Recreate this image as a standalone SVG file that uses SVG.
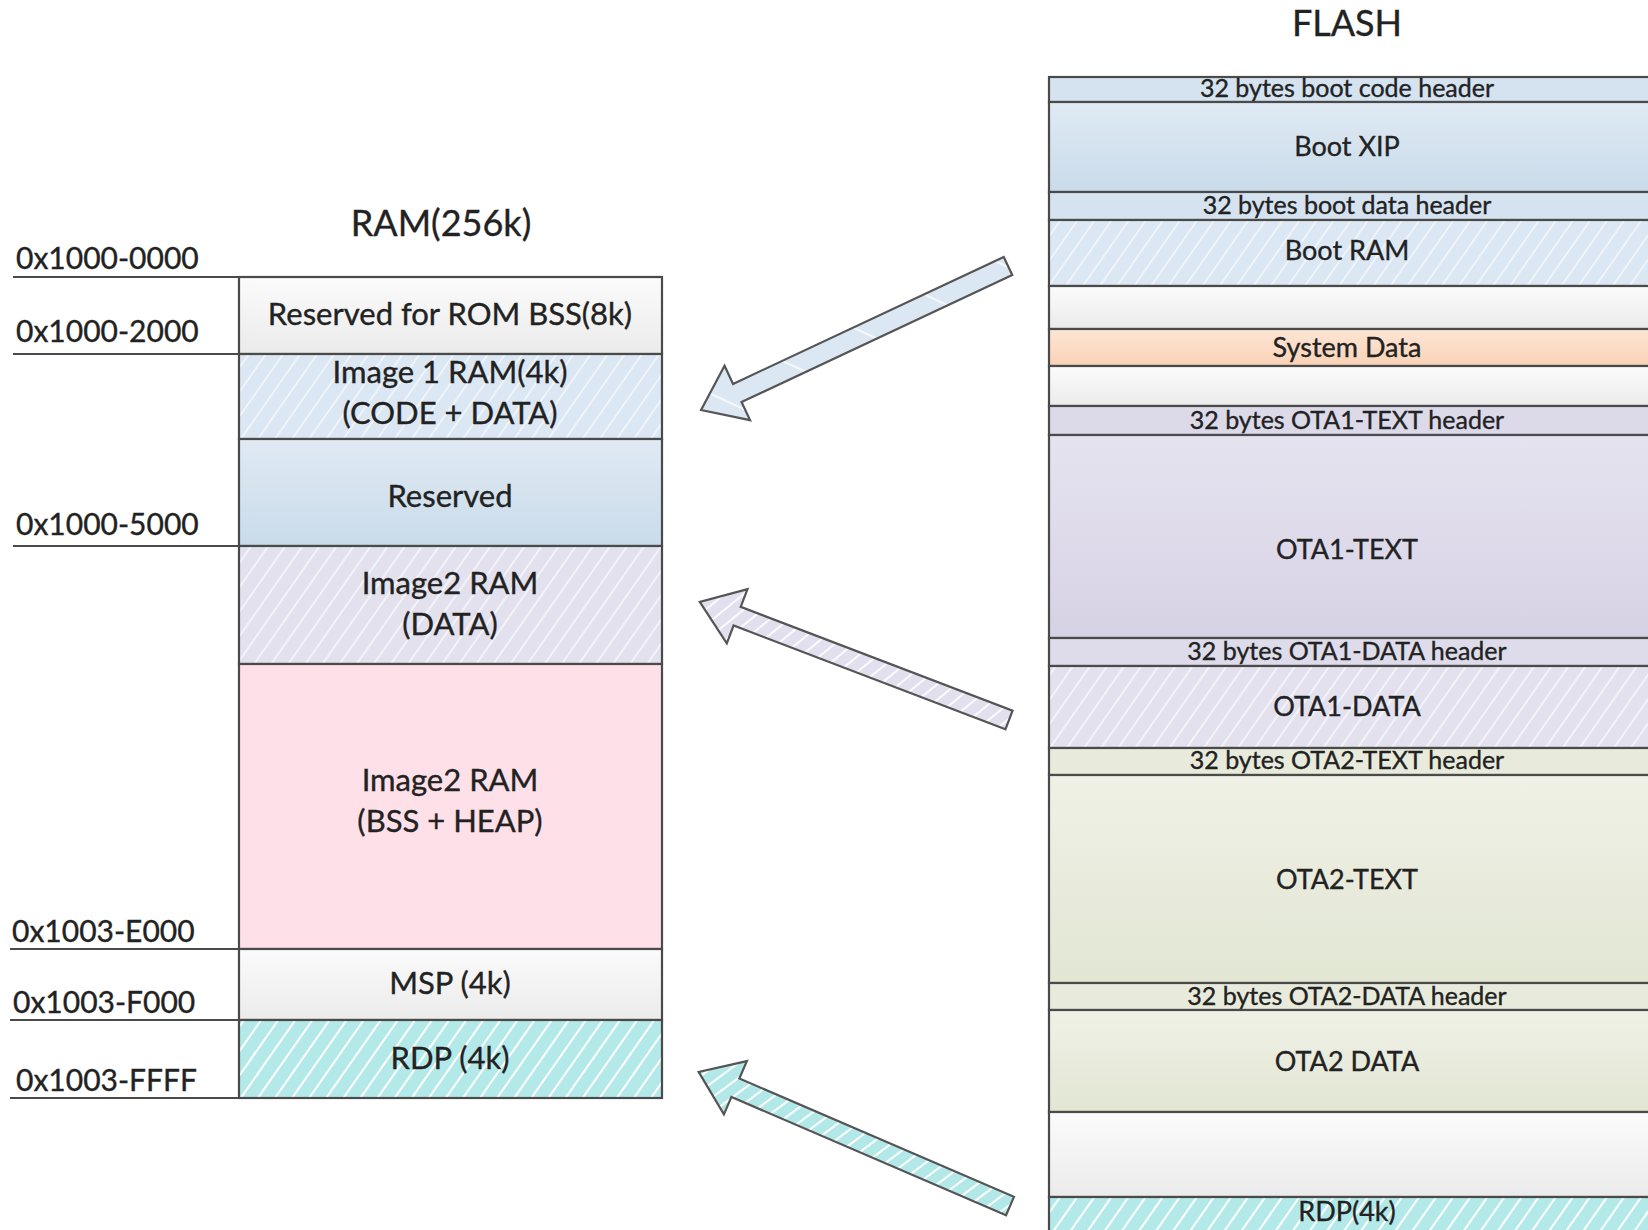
<svg xmlns="http://www.w3.org/2000/svg" width="1648" height="1230" viewBox="0 0 1648 1230">
<style>
.t{font-family:Lato,"Open Sans","Liberation Sans",sans-serif;fill:#222;stroke:#222;stroke-width:0.35;text-anchor:middle}
.addr{font-family:Lato,"Open Sans","Liberation Sans",sans-serif;fill:#222;stroke:#222;stroke-width:0.35;font-size:30px}
.lbl{font-size:31px}
.hdr{font-size:25px}
.fl{font-size:27px}
.ttl{font-size:36px}
.box{stroke:#4a4a4a;stroke-width:2.2}
.aline{stroke:#4a4a4a;stroke-width:2.2;fill:none}
.arrow{stroke:#555;stroke-width:2.2;stroke-linejoin:miter}
</style>
<defs>
<linearGradient id="gGray" x1="0" y1="0" x2="0" y2="1"><stop offset="0" stop-color="#fbfbfb"/><stop offset="1" stop-color="#ebebeb"/></linearGradient>
<linearGradient id="gBlue" x1="0" y1="0" x2="0" y2="1"><stop offset="0" stop-color="#e0eaf4"/><stop offset="1" stop-color="#c9dbea"/></linearGradient>
<linearGradient id="gPurple" x1="0" y1="0" x2="0" y2="1"><stop offset="0" stop-color="#e6e3f0"/><stop offset="1" stop-color="#d6d2e5"/></linearGradient>
<linearGradient id="gGreen" x1="0" y1="0" x2="0" y2="1"><stop offset="0" stop-color="#eff1e6"/><stop offset="1" stop-color="#e2e6d3"/></linearGradient>
<linearGradient id="gOrange" x1="0" y1="0" x2="0" y2="1"><stop offset="0" stop-color="#fde6d6"/><stop offset="1" stop-color="#f9d2b6"/></linearGradient>
<pattern id="hBlue" width="14" height="14" patternUnits="userSpaceOnUse" patternTransform="rotate(35)"><rect width="14" height="14" fill="#dbe7f2"/><line x1="1" y1="0" x2="1" y2="14" stroke="#f4f8fc" stroke-width="1.6"/></pattern>
<pattern id="hPurple" width="14" height="14" patternUnits="userSpaceOnUse" patternTransform="rotate(35)"><rect width="14" height="14" fill="#e3e1ee"/><line x1="1" y1="0" x2="1" y2="14" stroke="#f8f7fc" stroke-width="1.6"/></pattern>
<pattern id="hCyan" width="14" height="14" patternUnits="userSpaceOnUse" patternTransform="rotate(35)"><rect width="14" height="14" fill="#b3e9e9"/><line x1="1" y1="0" x2="1" y2="14" stroke="#ffffff" stroke-width="2"/></pattern>
<pattern id="aBlue" width="60" height="60" patternUnits="userSpaceOnUse" patternTransform="rotate(-40)"><rect width="60" height="60" fill="#dbe7f2"/><line x1="1" y1="0" x2="1" y2="60" stroke="#f6f9fc" stroke-width="2"/></pattern>
<pattern id="aPurple" width="12" height="12" patternUnits="userSpaceOnUse" patternTransform="rotate(30)"><rect width="12" height="12" fill="#e2e0ee"/><line x1="1" y1="0" x2="1" y2="12" stroke="#fbfaff" stroke-width="2"/></pattern>
<pattern id="aCyan" width="12" height="12" patternUnits="userSpaceOnUse" patternTransform="rotate(30)"><rect width="12" height="12" fill="#b2e8e8"/><line x1="1" y1="0" x2="1" y2="12" stroke="#ffffff" stroke-width="2"/></pattern>
</defs>
<rect width="1648" height="1230" fill="#ffffff"/>

<text class="t ttl" x="441" y="236">RAM(256k)</text>
<text class="t ttl" x="1347" y="36">FLASH</text>

<g id="addresses">
<text class="addr" x="16" y="269">0x1000-0000</text>
<text class="addr" x="16" y="342">0x1000-2000</text>
<text class="addr" x="16" y="535">0x1000-5000</text>
<text class="addr" x="12" y="942">0x1003-E000</text>
<text class="addr" x="13" y="1013">0x1003-F000</text>
<text class="addr" x="16" y="1091">0x1003-FFFF</text>
<path class="aline" d="M13 277H239M13 354H239M13 546H239M10 949H239M10 1020H239M10 1098H239"/>
</g>

<g id="ram-rom-bss"><rect class="box" x="239" y="277" width="423" height="77" fill="url(#gGray)"/><text class="t lbl" x="450" y="325">Reserved for ROM BSS(8k)</text></g>
<g id="ram-image1"><rect class="box" x="239" y="354" width="423" height="85" fill="url(#hBlue)"/><text class="t lbl" x="450" y="383">Image 1 RAM(4k)</text><text class="t lbl" x="450" y="424">(CODE + DATA)</text></g>
<g id="ram-reserved"><rect class="box" x="239" y="439" width="423" height="107" fill="url(#gBlue)"/><text class="t lbl" x="450" y="507">Reserved</text></g>
<g id="ram-image2-data"><rect class="box" x="239" y="546" width="423" height="118" fill="url(#hPurple)"/><text class="t lbl" x="450" y="594">Image2 RAM</text><text class="t lbl" x="450" y="635">(DATA)</text></g>
<g id="ram-image2-bss"><rect class="box" x="239" y="664" width="423" height="285" fill="#fde0e8"/><text class="t lbl" x="450" y="791">Image2 RAM</text><text class="t lbl" x="450" y="832">(BSS + HEAP)</text></g>
<g id="ram-msp"><rect class="box" x="239" y="949" width="423" height="71" fill="url(#gGray)"/><text class="t lbl" x="450" y="994">MSP (4k)</text></g>
<g id="ram-rdp"><rect class="box" x="239" y="1020" width="423" height="78" fill="url(#hCyan)"/><text class="t lbl" x="450" y="1069">RDP (4k)</text></g>

<g id="flash-boot-code-header"><rect class="box" x="1049" y="77" width="602" height="25" fill="#d5e3f0"/><text class="t hdr" x="1347" y="97">32 bytes boot code header</text></g>
<g id="flash-boot-xip"><rect class="box" x="1049" y="102" width="602" height="90" fill="url(#gBlue)"/><text class="t fl" x="1347" y="156">Boot XIP</text></g>
<g id="flash-boot-data-header"><rect class="box" x="1049" y="192" width="602" height="28" fill="#d5e3f0"/><text class="t hdr" x="1347" y="214">32 bytes boot data header</text></g>
<g id="flash-boot-ram"><rect class="box" x="1049" y="220" width="602" height="66" fill="url(#hBlue)"/><text class="t fl" x="1347" y="260">Boot RAM</text></g>
<g id="flash-empty-1"><rect class="box" x="1049" y="286" width="602" height="43" fill="url(#gGray)"/></g>
<g id="flash-system-data"><rect class="box" x="1049" y="329" width="602" height="37" fill="url(#gOrange)"/><text class="t fl" x="1347" y="357">System Data</text></g>
<g id="flash-empty-2"><rect class="box" x="1049" y="366" width="602" height="40" fill="url(#gGray)"/></g>
<g id="flash-ota1-text-header"><rect class="box" x="1049" y="406" width="602" height="29" fill="#dcd9e9"/><text class="t hdr" x="1347" y="429">32 bytes OTA1-TEXT header</text></g>
<g id="flash-ota1-text"><rect class="box" x="1049" y="435" width="602" height="203" fill="url(#gPurple)"/><text class="t fl" x="1347" y="559">OTA1-TEXT</text></g>
<g id="flash-ota1-data-header"><rect class="box" x="1049" y="638" width="602" height="28" fill="#dedbea"/><text class="t hdr" x="1347" y="660">32 bytes OTA1-DATA header</text></g>
<g id="flash-ota1-data"><rect class="box" x="1049" y="666" width="602" height="82" fill="url(#hPurple)"/><text class="t fl" x="1347" y="716">OTA1-DATA</text></g>
<g id="flash-ota2-text-header"><rect class="box" x="1049" y="748" width="602" height="27" fill="#e8ebdb"/><text class="t hdr" x="1347" y="769">32 bytes OTA2-TEXT header</text></g>
<g id="flash-ota2-text"><rect class="box" x="1049" y="775" width="602" height="208" fill="url(#gGreen)"/><text class="t fl" x="1347" y="889">OTA2-TEXT</text></g>
<g id="flash-ota2-data-header"><rect class="box" x="1049" y="983" width="602" height="27" fill="#e8ebdb"/><text class="t hdr" x="1347" y="1005">32 bytes OTA2-DATA header</text></g>
<g id="flash-ota2-data"><rect class="box" x="1049" y="1010" width="602" height="102" fill="url(#gGreen)"/><text class="t fl" x="1347" y="1071">OTA2 DATA</text></g>
<g id="flash-empty-3"><rect class="box" x="1049" y="1112" width="602" height="85" fill="url(#gGray)"/></g>
<g id="flash-rdp"><rect class="box" x="1049" y="1197" width="602" height="45" fill="url(#hCyan)"/><text class="t fl" x="1347" y="1221">RDP(4k)</text></g>

<g id="connectors">
<g transform="translate(1008,266) rotate(154.87)"><polygon class="arrow" fill="url(#aBlue)" points="0,-10 299,-10 299,-30 339,0 299,30 299,10 0,10"/></g>
<g transform="translate(1009,720) rotate(-159.1)"><polygon class="arrow" fill="url(#aPurple)" points="0,-10 291,-10 291,-29 331,0 291,29 291,10 0,10"/></g>
<g transform="translate(1010,1206) rotate(-156.7)"><polygon class="arrow" fill="url(#aCyan)" points="0,-10 299,-10 299,-29 339,0 299,29 299,10 0,10"/></g>
</g>
</svg>
